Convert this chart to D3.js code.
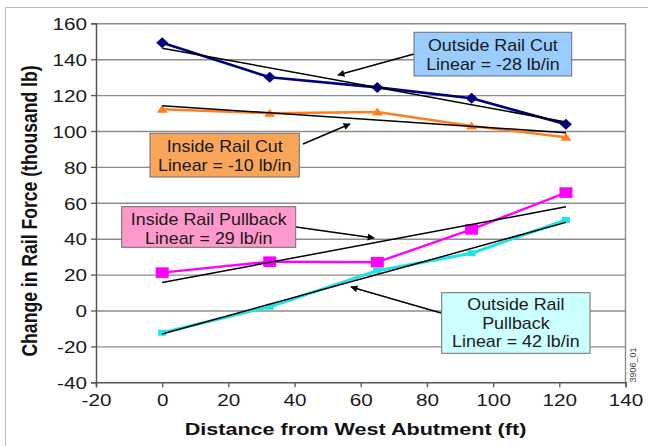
<!DOCTYPE html>
<html>
<head>
<meta charset="utf-8">
<script src="https://cdn.jsdelivr.net/npm/d3@7"></script>
<style>
  html, body { margin: 0; padding: 0; background: #fff; }
  svg { display: block; font-family: "Liberation Sans", Arial, sans-serif; }
</style>
</head>
<body>
<svg id="chart" width="648" height="446"></svg>
<script>
// Distance of each gauge from the west abutment (ft)
const distanceFt = [0, 32.5, 65, 93.5, 122];

// Change in rail force at each gauge (thousand lb)
const outsideRailCut      = [149.2, 129.9, 124.3, 118.2, 103.7];
const insideRailCut       = [112.1, 109.9, 110.6, 102.8, 96.5];
const insideRailPullback  = [21.1, 27.2, 26.9, 45.2, 65.7];
const outsideRailPullback = [-12.4, 2.1, 22.2, 31.9, 50.4];

const xTicks = [-20, 0, 20, 40, 60, 80, 100, 120, 140];
const yTicks = [-40, -20, 0, 20, 40, 60, 80, 100, 120, 140, 160];

const seriesNames = ["Outside Rail Cut", "Inside Rail Cut", "Inside Rail Pullback", "Outside Rail Pullback"];
const seriesValues = [outsideRailCut, insideRailCut, insideRailPullback, outsideRailPullback];

// Callout text for each trend line
const calloutLines = [
  ["Outside Rail Cut", "Linear = -28 lb/in"],
  ["Inside Rail Cut", "Linear = -10 lb/in"],
  ["Inside Rail Pullback", "Linear = 29 lb/in"],
  ["Outside Rail", "Pullback", "Linear = 42 lb/in"]
];

// ---- layout and styles ----
const plot = { left: 96, right: 625.5, top: 23.3, bottom: 382.3 };
const stretch = 1.22;  // horizontal stretch of the axis lettering

const seriesStyle = [
  { color: "#000080", width: 2.6, marker: "diamond" },
  { color: "#ff7f1e", width: 2.4, marker: "triangle" },
  { color: "#ff00ff", width: 2.4, marker: "bigSquare" },
  { color: "#22e3e3", width: 3.0, marker: "smallSquare" }
];

const markerPaths = {
  diamond: "M0,-5.5L6,0L0,5.5L-6,0Z",
  triangle: "M0,-4.5L5.5,3.5L-5.5,3.5Z",
  bigSquare: "M-6.5,-5.3H6.5V5.3H-6.5Z",
  smallSquare: "M-4,-3H4V3H-4Z"
};

const calloutLayout = [
  { x: 414, y: 32.3, w: 157.7, h: 43.7, fill: "#99ccff", lineY: [45, 64], arrow: [[414, 54], [338, 75]] },
  { x: 150, y: 133.3, w: 149.3, h: 43.7, fill: "#f9a65a", lineY: [146, 165], arrow: [[303, 144], [350, 124]] },
  { x: 121.7, y: 206.7, w: 174, h: 40.6, fill: "#ff99cc", lineY: [218.5, 237.5], arrow: [[296, 227], [374, 238]] },
  { x: 441.7, y: 292.7, w: 148.3, h: 60.6, fill: "#ccffff", lineY: [303.5, 322.5, 341], arrow: [[441, 313], [351, 287]] }
];

const svg = d3.select("#chart");

// outer frame
svg.append("rect")
  .attr("x", 5.5).attr("y", 7.5).attr("width", 700).attr("height", 500)
  .attr("fill", "none").attr("stroke", "#b8b8b8").attr("stroke-width", 1);

const x = d3.scaleLinear().domain([-20, 140]).range([plot.left, plot.right]);
const y = d3.scaleLinear().domain([-40, 160]).range([plot.bottom, plot.top]);

// plain hyphen for negative tick labels
const tickText = d => String(d);

// horizontal gridlines
svg.append("g")
  .attr("transform", `translate(${plot.left},0)`)
  .call(d3.axisLeft(y).tickValues(yTicks.filter(v => v > -40)).tickSize(-(plot.right - plot.left)).tickFormat(""))
  .call(g => g.select(".domain").remove())
  .call(g => g.selectAll("line").attr("stroke", "#8c8c8c").attr("stroke-width", 1.4));

// right border of the plot area
svg.append("line")
  .attr("x1", plot.right).attr("x2", plot.right)
  .attr("y1", plot.top).attr("y2", plot.bottom)
  .attr("stroke", "#8c8c8c").attr("stroke-width", 1.4);

// y axis
const yAxis = svg.append("g")
  .attr("transform", `translate(${plot.left},0)`)
  .call(d3.axisLeft(y).tickValues(yTicks).tickSize(5).tickFormat(tickText));
yAxis.select(".domain").attr("stroke", "#555").attr("stroke-width", 1.5);
yAxis.selectAll(".tick line").attr("stroke", "#555").attr("stroke-width", 1.3);
yAxis.selectAll(".tick text")
  .attr("x", null).attr("dy", null)
  .attr("transform", `translate(-9,6.2) scale(${stretch},1)`)
  .attr("font-size", 17).attr("fill", "#1a1a1a")
  .attr("font-family", "Liberation Sans, Arial, sans-serif");

// x axis
const xAxis = svg.append("g")
  .attr("transform", `translate(0,${plot.bottom})`)
  .call(d3.axisBottom(x).tickValues(xTicks).tickSize(5).tickFormat(tickText));
xAxis.select(".domain").attr("stroke", "#555").attr("stroke-width", 1.5);
xAxis.selectAll(".tick line").attr("stroke", "#555").attr("stroke-width", 1.3);
xAxis.selectAll(".tick text")
  .attr("y", null).attr("dy", null)
  .attr("transform", `translate(0,23.3) scale(${stretch},1)`)
  .attr("font-size", 17).attr("fill", "#1a1a1a")
  .attr("font-family", "Liberation Sans, Arial, sans-serif");

// axis titles
svg.append("text")
  .attr("transform", `translate(355.5,435) scale(1.27,1)`)
  .attr("text-anchor", "middle").attr("font-size", 17).attr("font-weight", "bold").attr("fill", "#111")
  .text("Distance from West Abutment (ft)");

svg.append("text")
  .attr("transform", `translate(36.5,211) scale(1.25,1) rotate(-90)`)
  .attr("text-anchor", "middle").attr("font-size", 17.6).attr("font-weight", "bold").attr("fill", "#111")
  .text("Change in Rail Force (thousand lb)");

// figure id
svg.append("text")
  .attr("transform", `translate(635.5,365) rotate(-90)`)
  .attr("text-anchor", "middle").attr("font-size", 9).attr("fill", "#444")
  .text("3906_01");

// least-squares trend of a series against distance
function linearFit(xs, ys) {
  const mx = d3.mean(xs), my = d3.mean(ys);
  const sxy = d3.sum(xs, (v, i) => (v - mx) * (ys[i] - my));
  const sxx = d3.sum(xs, v => (v - mx) * (v - mx));
  const slope = sxy / sxx;
  return { slope, intercept: my - slope * mx };
}

const line = d3.line().x(d => x(d[0])).y(d => y(d[1]));

seriesValues.forEach((vals, i) => {
  const st = seriesStyle[i];
  const pts = distanceFt.map((d, j) => [d, vals[j]]);
  const g = svg.append("g").attr("class", "series").attr("data-name", seriesNames[i]);
  g.append("path").datum(pts)
    .attr("d", line).attr("fill", "none")
    .attr("stroke", st.color).attr("stroke-width", st.width).attr("stroke-linejoin", "round");
  g.selectAll("path.marker").data(pts).join("path")
    .attr("class", "marker")
    .attr("d", markerPaths[st.marker])
    .attr("transform", d => `translate(${x(d[0])},${y(d[1])})`)
    .attr("fill", st.color);
});

// trend lines, drawn over the data
seriesValues.forEach(vals => {
  const fit = linearFit(distanceFt, vals);
  const ends = d3.extent(distanceFt).map(d => [d, fit.intercept + fit.slope * d]);
  svg.append("path").datum(ends)
    .attr("d", line).attr("fill", "none")
    .attr("stroke", "#000").attr("stroke-width", 1.5);
});

// callouts with arrows
const defs = svg.append("defs");
defs.append("marker")
  .attr("id", "arrowHead").attr("viewBox", "0 0 10 10")
  .attr("refX", 9).attr("refY", 5)
  .attr("markerWidth", 9).attr("markerHeight", 7)
  .attr("markerUnits", "userSpaceOnUse")
  .attr("orient", "auto")
  .append("path").attr("d", "M0,0L10,5L0,10Z").attr("fill", "#000");

calloutLayout.forEach((c, i) => {
  svg.append("line")
    .attr("x1", c.arrow[0][0]).attr("y1", c.arrow[0][1])
    .attr("x2", c.arrow[1][0]).attr("y2", c.arrow[1][1])
    .attr("stroke", "#000").attr("stroke-width", 1.4)
    .attr("marker-end", "url(#arrowHead)");
  svg.append("rect")
    .attr("x", c.x).attr("y", c.y).attr("width", c.w).attr("height", c.h)
    .attr("fill", c.fill).attr("stroke", "#6e6e6e").attr("stroke-width", 1);
  calloutLines[i].forEach((t, k) => {
    svg.append("text")
      .attr("transform", `translate(${c.x + c.w / 2},${c.lineY[k] + 6}) scale(1.05,1)`)
      .attr("text-anchor", "middle").attr("font-size", 17).attr("fill", "#1a1a1a")
      .text(t);
  });
});
</script>
</body>
</html>
